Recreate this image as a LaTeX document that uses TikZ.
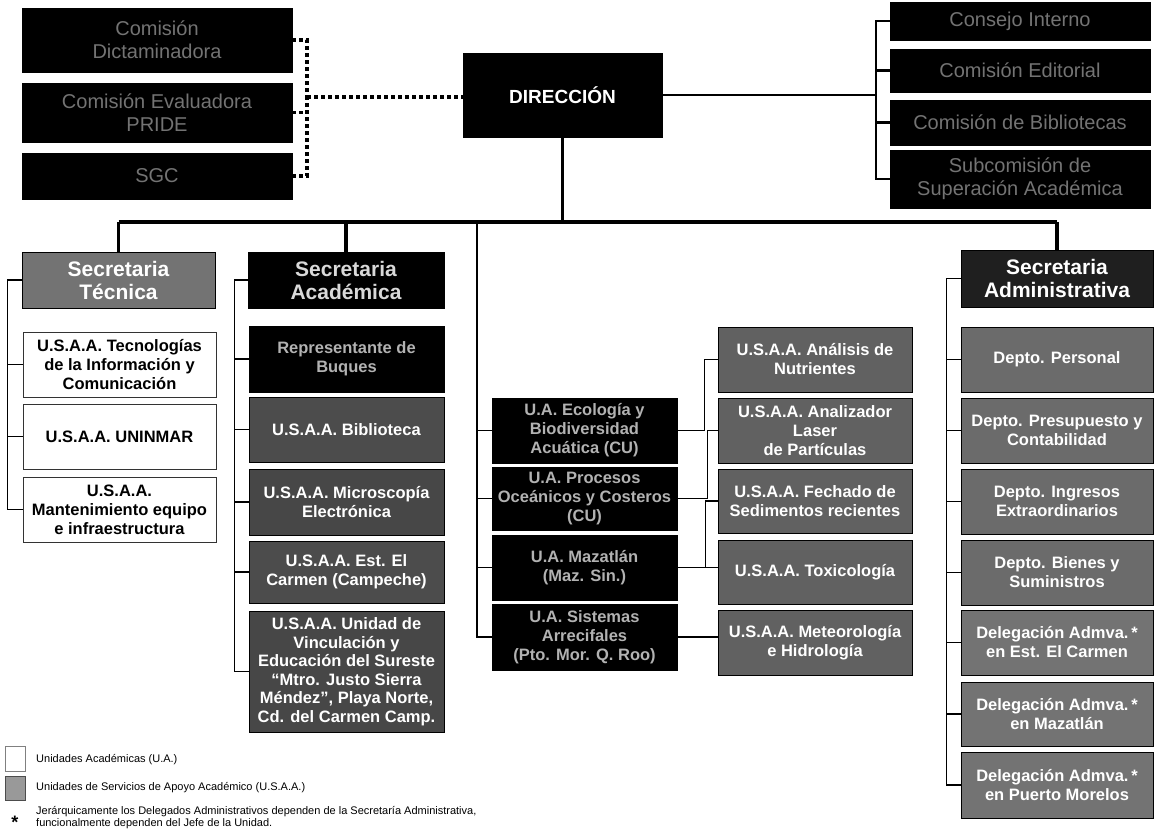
\documentclass[tikz,border=0pt]{standalone}
\usepackage{fontspec}
\setmainfont{Liberation Sans}
\usepackage{tikz}
\usetikzlibrary{calc}

\begin{document}
\begin{tikzpicture}[x=1pt,y=-1pt,
    darkbox/.style={draw=black, fill=black, text=black!55, align=center, inner sep=1pt,
        font=\fontsize{20}{23}\selectfont},
    dirbox/.style={draw=black, fill=black, text=white, align=center,
        font=\fontsize{19}{22}\selectfont\bfseries},
    secbox/.style={draw=black, fill=#1, text=white, align=center, inner sep=1pt,
        font=\fontsize{21}{23}\selectfont\bfseries},
    whbox/.style={draw=black!80, fill=white, text=black, align=center, inner sep=1pt,
        font=\fontsize{16.5}{19}\selectfont\bfseries},
    grbox/.style={draw=black, fill=#1, text=white, align=center, inner sep=1pt,
        font=\fontsize{16.5}{19}\selectfont\bfseries},
    uabox/.style={draw=black, fill=black, text=black!30, align=center, inner sep=1pt,
        font=\fontsize{16.5}{19}\selectfont\bfseries},
    bus/.style={line width=3.5pt},
    brk/.style={line width=2.5pt},
    dotline/.style={line width=3.5pt, dash pattern=on 4pt off 3pt},
    conn/.style={line width=1.3pt},
    legtext/.style={anchor=west, align=left, inner sep=0pt,
        font=\fontsize{11}{12}\selectfont}]
			%%%%% START %%%%%
			\useasboundingbox (0,0) rectangle (1155,832);
			
			% consejos y comisiones
			\node[darkbox, minimum width=270, minimum height=64] (cdict) at (157,40) {Comisión\\Dictaminadora};
			\node[darkbox, minimum width=270, minimum height=59] (ceval) at (157,112.5) {Comisión Evaluadora\\PRIDE};
			\node[darkbox, minimum width=270, minimum height=46] (csgc) at (157,176) {SGC};
			
			\node[dirbox, minimum width=199, minimum height=84] (dir) at (562.5,95) {DIRECCIÓN};
			
			\node[darkbox, minimum width=260, minimum height=38] (cint) at (1020,21) {Consejo Interno};
			\node[darkbox, minimum width=260, minimum height=43] (cedit) at (1020,70.5) {Comisión Editorial};
			\node[darkbox, minimum width=260, minimum height=45] (cbibl) at (1020,122.5) {Comisión de Bibliotecas};
			\node[darkbox, minimum width=260, minimum height=58] (ssup) at (1020,179) {Subcomisión de\\Superación Académica};
			
			\coordinate (dj) at (307,97);
			\draw[dotline] (cdict.east) -| (dj);
			\draw[dotline] (csgc.east) -| (dj);
			\draw[dotline] (ceval.east) -- (ceval.east -| dj);
			\draw[dotline] (dj) -- (dir.west |- dj);
			
			\coordinate (rj) at (876,95);
			\draw[brk] (dir.east) -- (rj);
			\draw[brk] (cint.west) -| (rj);
			\draw[brk] (ssup.west) -| (rj);
			\draw[brk] (cedit.west) -- (cedit.west -| rj);
			\draw[brk] (cbibl.west) -- (cbibl.west -| rj);
			
			% secretarias
			\node[secbox=black!55, minimum width=193, minimum height=56] (stec) at (118.5,280) {Secretaria\\Técnica};
			\node[secbox=black, text=black!15, minimum width=196, minimum height=56] (sacad) at (346,280) {Secretaria\\Académica};
			\node[secbox=black!88, minimum width=192, minimum height=57] (sadm) at (1057,278.5) {Secretaria\\Administrativa};
			
			\coordinate (busl) at (stec.north |- 0,222);
			\draw[bus] (busl) -- (busl -| sadm.north);
			\draw[bus] (stec.north) -- (busl);
			\draw[bus] (sacad.north) -- (sacad.north |- busl);
			\draw[bus] (sadm.north) -- (sadm.north |- busl);
			\draw[bus] (dir.south) -- (dir.south |- busl);
			
			% secretaria tecnica
			\node[whbox, minimum width=193, minimum height=65] (tic) at (119.5,364.5) {U.S.A.A. Tecnologías\\de la Información y\\Comunicación};
			\node[whbox, minimum width=193, minimum height=65] (uninmar) at (119.5,436.5) {U.S.A.A. UNINMAR};
			\node[whbox, minimum width=193, minimum height=65] (mant) at (119.5,509.5) {U.S.A.A.\\Mantenimiento equipo\\e infraestructura};
			\draw[conn] (stec.west) -- ++(-14,0) |- (mant.west);
			\draw[conn] (tic.west) -- ++(-15,0);
			\draw[conn] (uninmar.west) -- ++(-15,0);
			
			% secretaria academica
			\node[uabox, minimum width=195, minimum height=66] (repb) at (346.5,359) {Representante de\\Buques};
			\node[grbox=black!70, minimum width=195, minimum height=65] (bibl) at (346.5,429.5) {U.S.A.A. Biblioteca};
			\node[grbox=black!72, minimum width=195, minimum height=66] (micro) at (346.5,502) {U.S.A.A. Microscopía\\Electrónica};
			\node[grbox=black!70, minimum width=195, minimum height=62] (carmen) at (346.5,572) {U.S.A.A. Est. El\\Carmen (Campeche)};
			\node[grbox=black!72, minimum width=195, minimum height=121, font=\fontsize{16.5}{18.5}\selectfont\bfseries] (vinc) at (346.5,671.5) {U.S.A.A. Unidad de\\Vinculación y\\Educación del Sureste\\“Mtro. Justo Sierra\\Méndez”, Playa Norte,\\Cd. del Carmen Camp.};
			\draw[conn] (sacad.west) -- ++(-13,0) |- (vinc.west);
			\foreach \n in {repb,bibl,micro,carmen}
				\draw[conn] (\n.west) -- ++(-14,0);
			
			% unidades academicas
			\node[uabox, minimum width=185, minimum height=65] (ua1) at (584.5,430.5) {U.A. Ecología y\\Biodiversidad\\Acuática (CU)};
			\node[uabox, minimum width=185, minimum height=63] (ua2) at (584.5,498.5) {U.A. Procesos\\Oceánicos y Costeros\\(CU)};
			\node[uabox, minimum width=185, minimum height=65] (ua3) at (584.5,567.5) {U.A. Mazatlán\\(Maz. Sin.)};
			\node[uabox, minimum width=185, minimum height=66] (ua4) at (584.5,637) {U.A. Sistemas\\Arrecifales\\(Pto. Mor. Q. Roo)};
			\coordinate (uatop) at (477,222);
			\draw[conn] (uatop) |- (ua4.west);
			\foreach \n in {ua1,ua2,ua3}
				\draw[conn] (\n.west) -- (\n.west -| uatop);
			
			\node[grbox=black!62, minimum width=194, minimum height=65] (nutr) at (815,359.5) {U.S.A.A. Análisis de\\Nutrientes};
			\node[grbox=black!62, minimum width=194, minimum height=65] (laser) at (815,430.5) {U.S.A.A. Analizador\\Laser\\de Partículas};
			\node[grbox=black!62, minimum width=194, minimum height=64] (fech) at (815,501) {U.S.A.A. Fechado de\\Sedimentos recientes};
			\node[grbox=black!62, minimum width=194, minimum height=64] (toxi) at (815,572) {U.S.A.A. Toxicología};
			\node[grbox=black!62, minimum width=194, minimum height=65] (meteo) at (815,642.5) {U.S.A.A. Meteorología\\e Hidrología};
			\draw[conn] (ua1.east) -- ++(27,0) |- (nutr.west);
			\draw[conn] (ua2.east) -- ++(30,0) |- (laser.west);
			\draw[conn] (ua3.east) -- ++(28,0) |- (fech.west);
			\draw[conn] (ua3.east) -- (ua3.east -| toxi.west);
			\draw[conn] (ua4.east) -- (ua4.east -| meteo.west);
			
			% secretaria administrativa
			\node[grbox=black!58, minimum width=192, minimum height=65] (dpers) at (1057,359.5) {Depto. Personal};
			\node[grbox=black!58, minimum width=192, minimum height=65] (dpres) at (1057,430.5) {Depto. Presupuesto y\\Contabilidad};
			\node[grbox=black!58, minimum width=192, minimum height=65] (dingr) at (1057,501.5) {Depto. Ingresos\\Extraordinarios};
			\node[grbox=black!58, minimum width=192, minimum height=65] (dbien) at (1057,572.5) {Depto. Bienes y\\Suministros};
			\node[grbox=black!55, minimum width=192, minimum height=65] (dlcar) at (1057,642.5) {Delegación Admva.\,*\\en Est. El Carmen};
			\node[grbox=black!55, minimum width=192, minimum height=64] (dlmaz) at (1057,714) {Delegación Admva.\,*\\en Mazatlán};
			\node[grbox=black!55, minimum width=192, minimum height=66] (dlpmo) at (1057,785) {Delegación Admva.\,*\\en Puerto Morelos};
			\draw[conn] (sadm.west) -- ++(-14,0) |- (dlpmo.west);
			\foreach \n in {dpers,dpres,dingr,dbien,dlcar,dlmaz}
				\draw[conn] (\n.west) -- ++(-14,0);
			
			% simbologia
			\node[draw=black!50, fill=white, minimum width=20, minimum height=25, inner sep=0pt] (lgua) at (15,759) {};
			\node[draw=black!70, fill=black!40, minimum width=20, minimum height=24, inner sep=0pt] (lgusaa) at (15,788) {};
			\node[legtext] (lgtua) at (36,760) {Unidades Académicas (U.A.)};
			\node[legtext] (lgtusaa) at (36,788) {Unidades de Servicios de Apoyo Académico (U.S.A.A.)};
			\node[font=\fontsize{18}{18}\selectfont\bfseries, inner sep=0pt] (lgast) at (15,822) {*};
			\node[legtext] (lgnota) at (36,818) {Jerárquicamente los Delegados Administrativos dependen de la Secretaría Administrativa,\\funcionalmente dependen del Jefe de la Unidad.};
			
			%%%%% END %%%%%
\end{tikzpicture}
\end{document}
